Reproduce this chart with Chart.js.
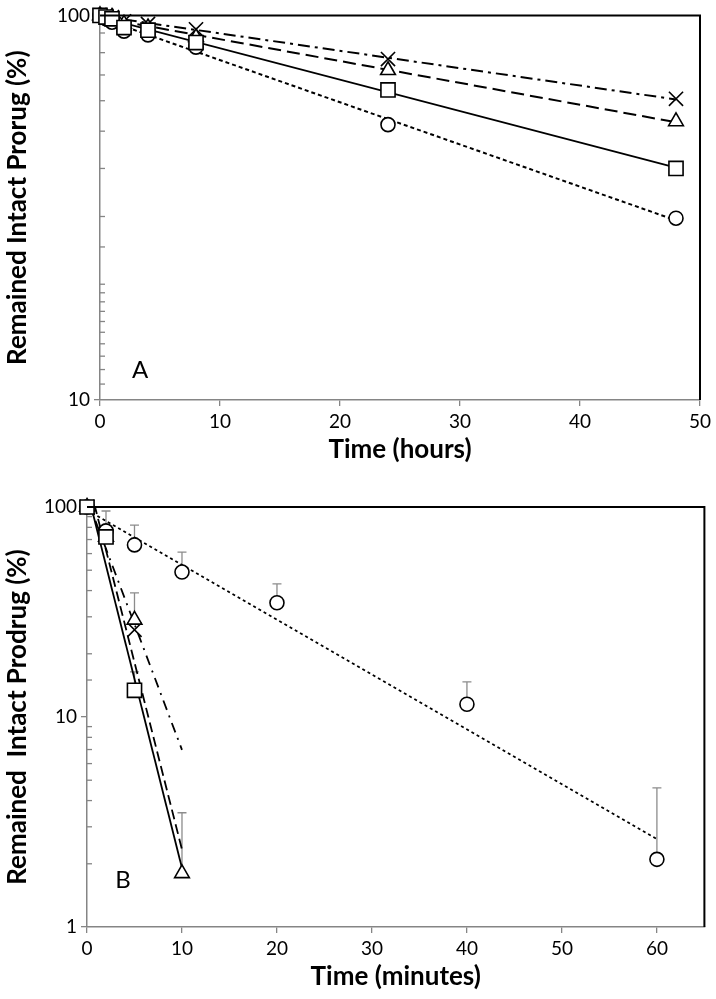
<!DOCTYPE html>
<html>
<head>
<meta charset="utf-8">
<script src="https://cdn.jsdelivr.net/npm/chart.js@4.4.1/dist/chart.umd.min.js"></script>
<style>
  body { margin: 0; background: #fff; }
  #wrapA { position: absolute; left: 0; top: 0; width: 716px; height: 472px; }
  #wrapB { position: absolute; left: 0; top: 485px; width: 716px; height: 514px; }
</style>
</head>
<body>
<div id="wrapA"><canvas id="chartA"></canvas></div>
<div id="wrapB"><canvas id="chartB"></canvas></div>
<script>
// Panel A - time in hours
const hoursA = [0, 0.5, 1, 2, 4, 8, 24, 48];
const squareA = [100, 99, 98, 93, 91.5, 85, 64, 40];
const circleA = [100, 98, 96, 91, 89, 82.7, 52, 29.7];
const triangleA = [100, 99, 99, 95, 93, 87.7, 72, 53];
const crossA = [100, 100, 99, 96.5, 95, 92, 77, 60.7];

// Panel B - time in minutes
const minutesCircle = [0, 2, 5, 10, 20, 40, 60];
const circleB = [100, 77, 66, 49, 35, 11.5, 2.1];
const circleErrTop = [null, 95.7, 82, 61, 43, 14.7, 4.6];
const minutesOthers = [0, 2, 5, 10];
const squareB = [100, 72, 13.4];
const squareErrTop = [null, null, 16.4];
const triangleB = [100, 72, 29, 1.8];
const triangleErrTop = [null, null, 39, 3.5];
const crossB = [100, 74, 26];

const ticksX_A = [0, 10, 20, 30, 40, 50];
const ticksX_B = [0, 10, 20, 30, 40, 50, 60];

Chart.defaults.font.family = 'Lato';
Chart.defaults.color = '#000';

// exponential trendline, like Excel's
function expFit(xs, ys) {
  let n = 0, sx = 0, sy = 0, sxx = 0, sxy = 0;
  ys.forEach((y, i) => {
    if (y == null) return;
    const ly = Math.log(y);
    n++; sx += xs[i]; sy += ly; sxx += xs[i] * xs[i]; sxy += xs[i] * ly;
  });
  const b = (n * sxy - sx * sy) / (n * sxx - sx * sx);
  const a = (sy - b * sx) / n;
  return x => Math.exp(a + b * x);
}

function trendData(xs, ys, x0, x1) {
  const f = expFit(xs, ys);
  return [{x: x0, y: f(x0)}, {x: x1, y: f(x1)}];
}

function pts(xs, ys) {
  return ys.map((y, i) => ({x: xs[i], y: y}));
}

function marker(data, style, radius) {
  return {
    type: 'scatter', data: data, showLine: false, order: 0, clip: false,
    pointStyle: style, pointRadius: radius, pointBorderWidth: 1.6,
    pointBorderColor: '#000', pointBackgroundColor: '#fff'
  };
}

function trend(data, dash, width) {
  return {
    type: 'line', data: data, order: 1, pointRadius: 0,
    borderColor: '#000', borderWidth: width, borderDash: dash, fill: false
  };
}

// error bars (upper only), grey
const errorBars = {
  id: 'errorBars',
  beforeDatasetsDraw(chart, args, opts) {
    if (!opts.series) return;
    const ctx = chart.ctx, xs = chart.scales.x, ys = chart.scales.y;
    ctx.save();
    ctx.strokeStyle = '#8c8c8c';
    ctx.lineWidth = 1.3;
    opts.series.forEach(s => {
      s.top.forEach((t, i) => {
        if (t == null) return;
        const px = xs.getPixelForValue(s.x[i]);
        const p0 = ys.getPixelForValue(s.y[i]);
        const p1 = ys.getPixelForValue(t);
        ctx.beginPath();
        ctx.moveTo(px, p0); ctx.lineTo(px, p1);
        ctx.moveTo(px - 4.5, p1); ctx.lineTo(px + 4.5, p1);
        ctx.stroke();
      });
    });
    ctx.restore();
  }
};

// plot frame (top/right), inside minor ticks, panel letter
const frame = {
  id: 'frame',
  afterDraw(chart, args, opts) {
    const ctx = chart.ctx, a = chart.chartArea, ys = chart.scales.y;
    ctx.save();
    ctx.strokeStyle = '#000';
    ctx.lineWidth = 2;
    ctx.beginPath();
    ctx.moveTo(a.left, a.top); ctx.lineTo(a.right, a.top); ctx.lineTo(a.right, a.bottom);
    ctx.stroke();
    ctx.strokeStyle = '#858585';
    ctx.lineWidth = 1.3;
    ys.ticks.forEach(t => {
      if (Number.isInteger(Math.log10(t.value))) return;
      const py = ys.getPixelForValue(t.value);
      ctx.beginPath(); ctx.moveTo(a.left, py); ctx.lineTo(a.left + 5, py); ctx.stroke();
    });
    ctx.fillStyle = '#000';
    ctx.font = '24px Lato';
    ctx.textAlign = 'center';
    ctx.textBaseline = 'middle';
    ctx.fillText(opts.letter, a.left + opts.dx, a.bottom + opts.dy);
    ctx.restore();
  }
};

function makeOptions(cfg) {
  return {
    responsive: true,
    maintainAspectRatio: false,
    animation: false,
    layout: {padding: {top: cfg.padTop, right: cfg.padRight, left: 0, bottom: 0}},
    plugins: {
      legend: {display: false},
      tooltip: {enabled: false},
      errorBars: {series: cfg.errors},
      frame: {letter: cfg.letter, dx: cfg.letterDx, dy: cfg.letterDy}
    },
    scales: {
      x: {
        type: 'linear', min: 0, max: cfg.xMax,
        afterBuildTicks: s => { s.ticks = cfg.xTicks.map(v => ({value: v})); },
        afterFit: s => { s.height = cfg.xHeight; },
        border: {color: '#858585', width: 1.5},
        grid: {drawOnChartArea: false, tickLength: 6, tickColor: '#858585', lineWidth: 1.3},
        ticks: {font: {size: 19}, padding: 4, maxRotation: 0},
        title: {display: true, text: cfg.xTitle, font: {size: 26, weight: 'bold'}, padding: {top: 0, bottom: 7}}
      },
      y: {
        type: 'logarithmic', min: cfg.yMin, max: 100,
        afterFit: s => { s.width = cfg.yWidth; },
        border: {color: '#858585', width: 1.5},
        grid: {
          drawOnChartArea: false, tickLength: 6, lineWidth: 1.3,
          tickColor: c => Number.isInteger(Math.log10(c.tick.value)) ? '#858585' : 'rgba(0,0,0,0)'
        },
        ticks: {
          font: {size: 19}, padding: 4, autoSkip: false,
          callback: v => Number.isInteger(Math.log10(v)) ? String(v) : ''
        },
        title: {display: true, text: cfg.yTitle, font: {size: 26, weight: 'bold'}, padding: {top: 2, bottom: 0}}
      }
    }
  };
}

new Chart(document.getElementById('chartA'), {
  type: 'scatter',
  data: {
    datasets: [
      trend(trendData(hoursA, squareA, 0, 48), [], 1.8),
      trend(trendData(hoursA, circleA, 0, 48), [4, 3], 2),
      trend(trendData(hoursA, triangleA, 0, 48), [13, 6], 2),
      trend(trendData(hoursA, crossA, 0, 48), [12, 5, 3, 5], 2),
      marker(pts(hoursA, squareA), 'rect', 10),
      marker(pts(hoursA, circleA), 'circle', 7),
      marker(pts(hoursA, triangleA), 'triangle', 8.5),
      marker(pts(hoursA, crossA), 'crossRot', 10)
    ]
  },
  options: makeOptions({
    padTop: 13, padRight: 16, xMax: 50, xTicks: ticksX_A, xHeight: 72, yMin: 10, yWidth: 100,
    xTitle: 'Time (hours)', yTitle: 'Remained Intact Prorug (%)',
    letter: 'A', letterDx: 40, letterDy: -30, errors: null
  }),
  plugins: [errorBars, frame]
});

new Chart(document.getElementById('chartB'), {
  type: 'scatter',
  data: {
    datasets: [
      trend(trendData(minutesOthers, squareB, 0, 10), [], 1.8),
      trend(trendData(minutesCircle, circleB, 0, 60), [3, 3], 1.8),
      trend(trendData(minutesOthers, triangleB, 0, 10), [10, 5], 1.8),
      trend(trendData(minutesOthers, crossB, 0, 10), [10, 6, 2, 6], 1.8),
      marker(pts(minutesOthers, squareB), 'rect', 10),
      marker(pts(minutesCircle, circleB), 'circle', 7),
      marker(pts(minutesOthers, triangleB), 'triangle', 8.5),
      marker(pts(minutesOthers, crossB), 'crossRot', 10)
    ]
  },
  options: makeOptions({
    padTop: 22, padRight: 10, xMax: 65, xTicks: ticksX_B, xHeight: 72, yMin: 1, yWidth: 87,
    xTitle: 'Time (minutes)', yTitle: 'Remained  Intact Prodrug (%)',
    letter: 'B', letterDx: 36, letterDy: -47,
    errors: [
      {x: minutesCircle, y: circleB, top: circleErrTop},
      {x: minutesOthers, y: squareB, top: squareErrTop},
      {x: minutesOthers, y: triangleB, top: triangleErrTop}
    ]
  }),
  plugins: [errorBars, frame]
});
</script>
</body>
</html>
